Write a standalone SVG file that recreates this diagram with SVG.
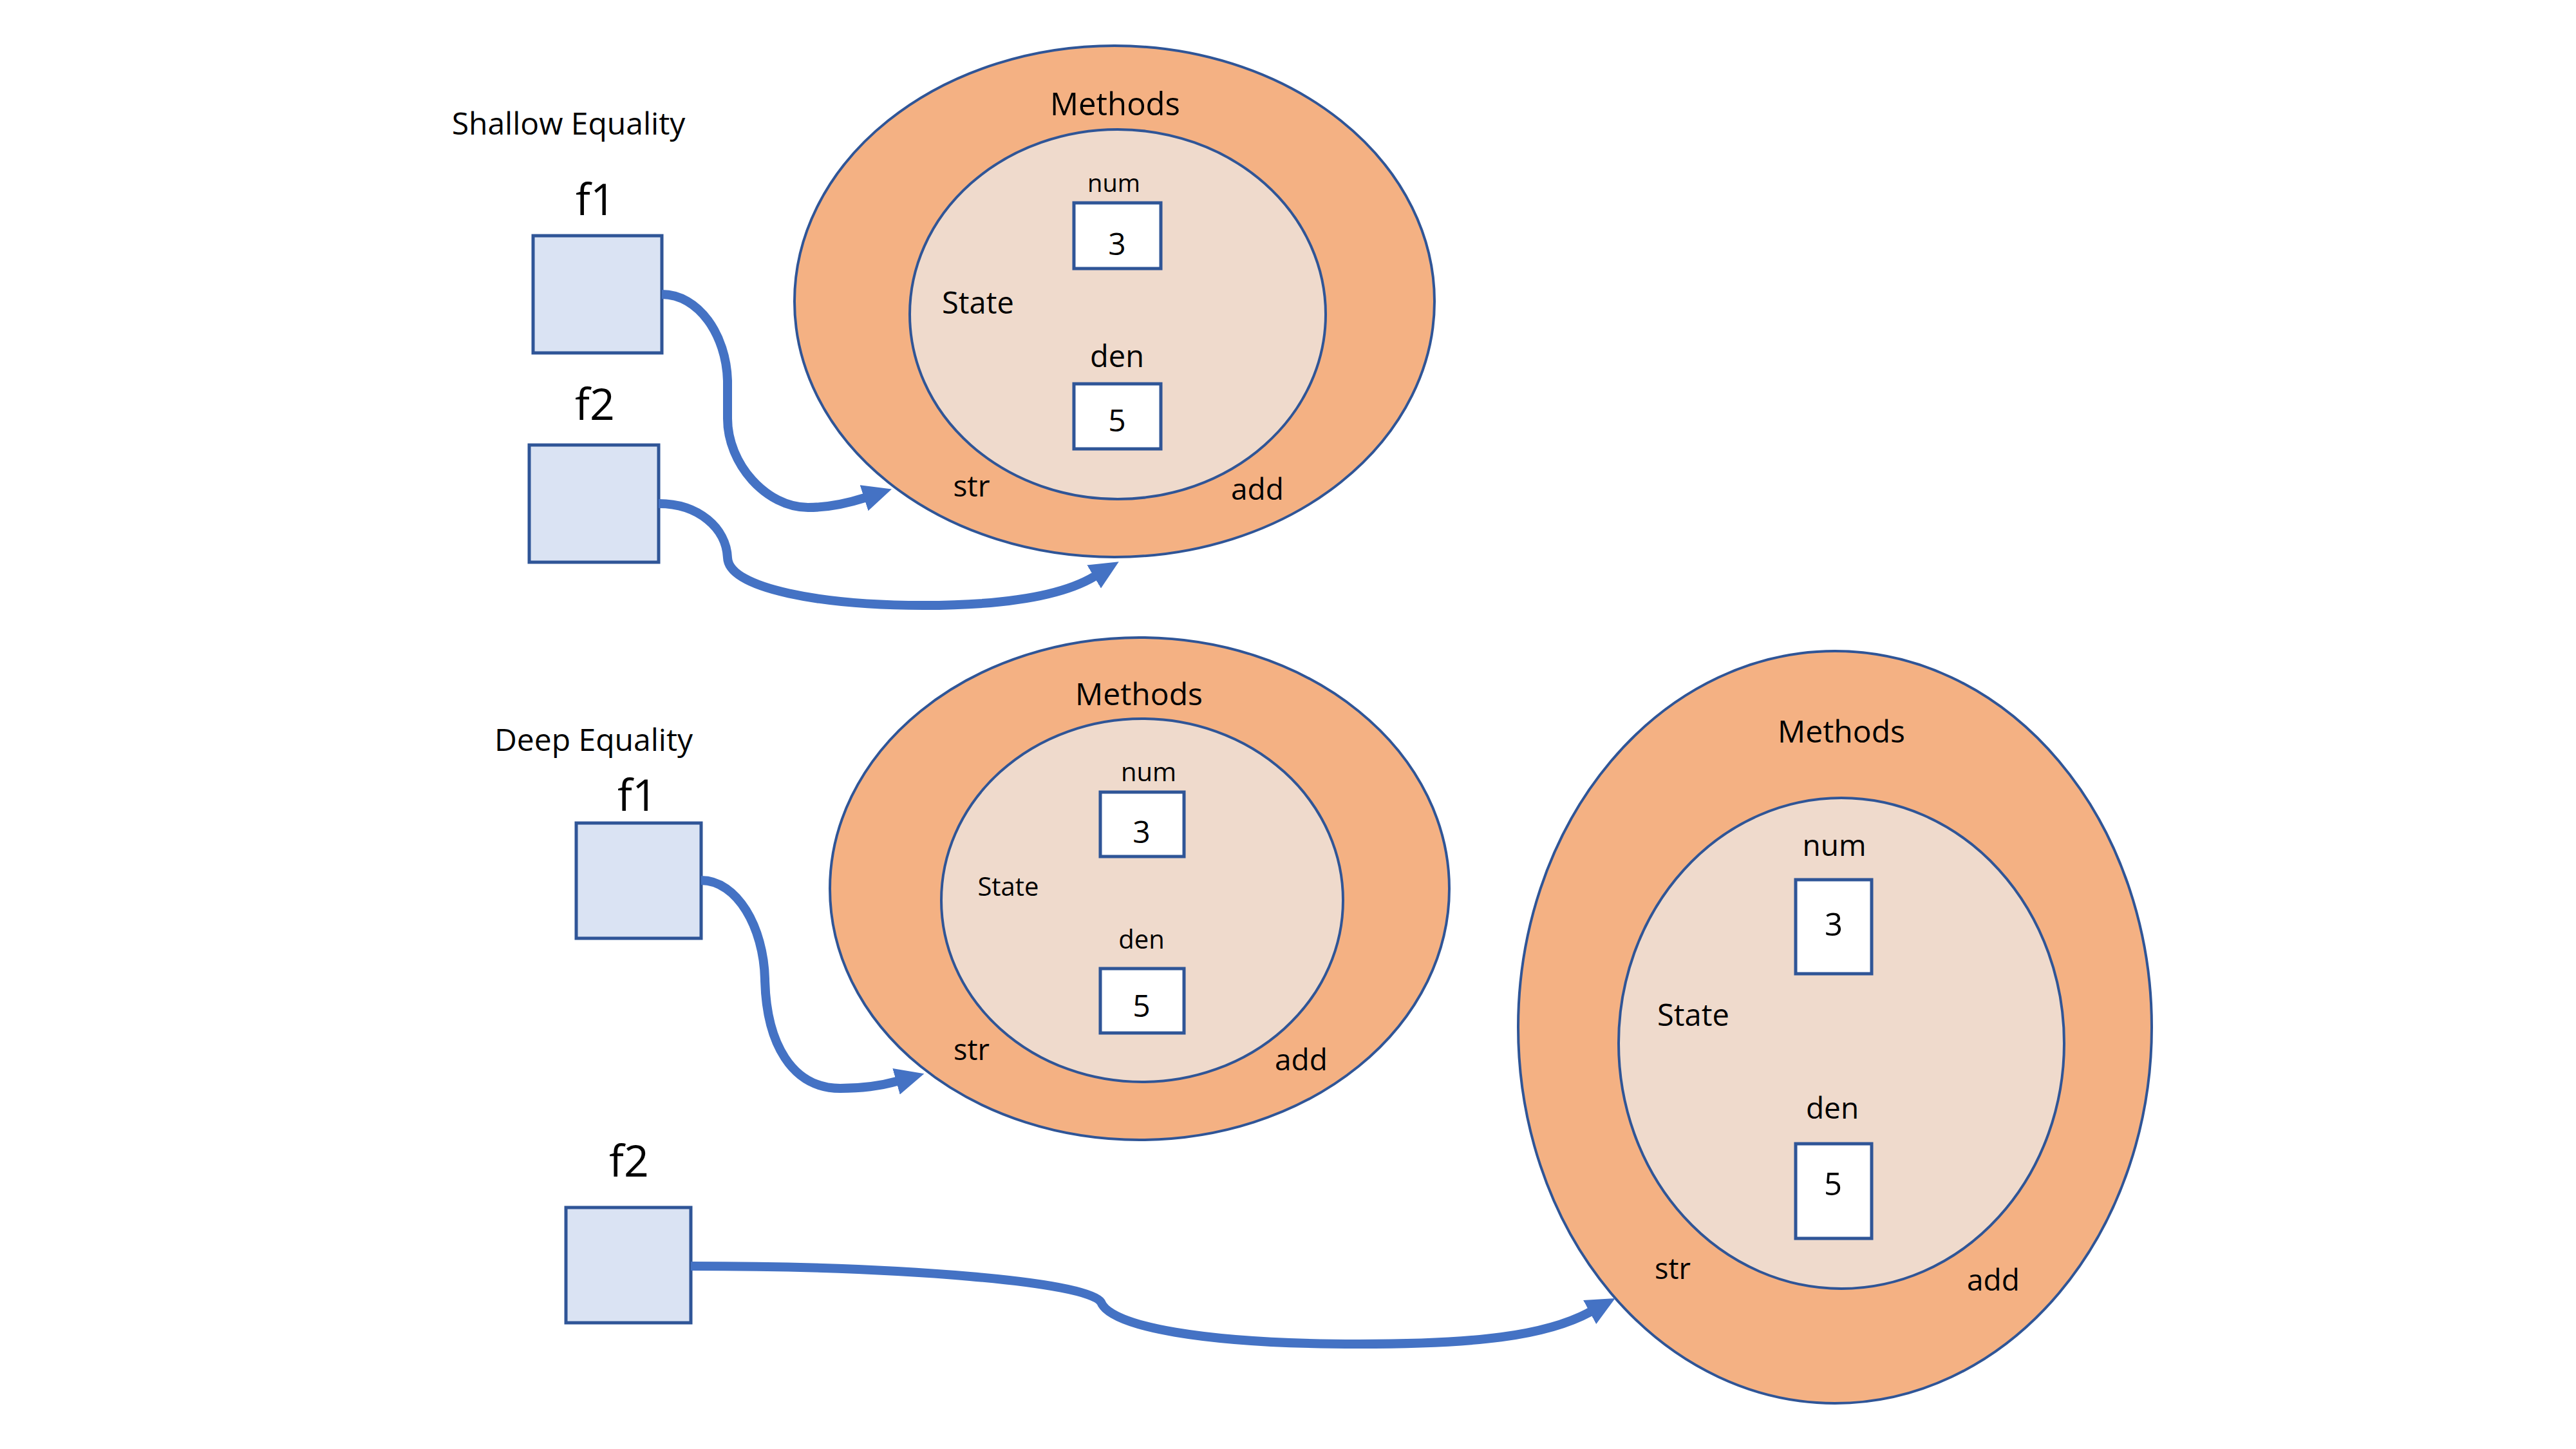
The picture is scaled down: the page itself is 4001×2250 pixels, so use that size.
<svg xmlns="http://www.w3.org/2000/svg" width="4001" height="2250" viewBox="0 0 4001 2250">
<style>
text{font-family:"Open Sans","Noto Sans","Liberation Sans",sans-serif;fill:#000;text-anchor:middle}
.outer{fill:#F4B183;stroke:#2F5597;stroke-width:4}
.inner{fill:#EFDACC;stroke:#2F5597;stroke-width:4}
.ref{fill:#DAE3F3;stroke:#2F5597;stroke-width:5}
.val{fill:#FFFFFF;stroke:#2F5597;stroke-width:5}
.conn{fill:none;stroke:#4472C4;stroke-width:14;marker-end:url(#ah)}
.title{font-size:48px}
.var{font-size:68px}
</style>
<defs>
<marker id="ah" markerUnits="userSpaceOnUse" markerWidth="46" markerHeight="44" refX="1" refY="21" orient="auto" viewBox="0 0 46 42">
<path d="M0,0 L45,21 L0,42 z" fill="#4472C4"/>
</marker>
</defs>
<rect width="4001" height="2250" fill="#FFFFFF"/>

<g id="shallow-label"><text class="title" x="883" y="209">Shallow Equality</text></g>
<g id="s-f1"><text class="var" x="925" y="334">f1</text><rect class="ref" x="828" y="366" width="200" height="182"/></g>
<g id="s-f2"><text class="var" x="924" y="652">f2</text><rect class="ref" x="822" y="691" width="201" height="182"/></g>
<g id="s-obj">
<ellipse class="outer" cx="1731" cy="468" rx="497" ry="397"/>
<ellipse class="inner" cx="1736" cy="488" rx="323" ry="287"/>
<text x="1732" y="179" font-size="49">Methods</text>
<text x="1730" y="298" font-size="38">num</text>
<rect class="val" x="1668" y="315" width="135" height="102"/>
<text x="1735" y="396" font-size="48">3</text>
<text x="1519" y="487" font-size="47">State</text>
<text x="1735" y="570" font-size="47">den</text>
<rect class="val" x="1668" y="596" width="135" height="101"/>
<text x="1735" y="670" font-size="48">5</text>
<text x="1509" y="771" font-size="46">str</text>
<text x="1953" y="776" font-size="46">add</text>
</g>

<g id="deep-label"><text class="title" x="922" y="1166">Deep Equality</text></g>
<g id="d-f1"><text class="var" x="990" y="1259">f1</text><rect class="ref" x="895" y="1278" width="194" height="179"/></g>
<g id="d-f2"><text class="var" x="977" y="1827">f2</text><rect class="ref" x="879" y="1875" width="194" height="179"/></g>
<g id="d-obj1">
<ellipse class="outer" cx="1770" cy="1380" rx="481" ry="390"/>
<ellipse class="inner" cx="1774" cy="1398" rx="312" ry="282"/>
<text x="1769" y="1095" font-size="48">Methods</text>
<text x="1784" y="1213" font-size="40">num</text>
<rect class="val" x="1709" y="1230" width="130" height="100"/>
<text x="1773" y="1309" font-size="48">3</text>
<text x="1566" y="1391" font-size="40">State</text>
<text x="1773" y="1473" font-size="40">den</text>
<rect class="val" x="1709" y="1504" width="130" height="100"/>
<text x="1773" y="1579" font-size="48">5</text>
<text x="1509" y="1646" font-size="45">str</text>
<text x="2021" y="1662" font-size="46">add</text>
</g>
<g id="d-obj2">
<ellipse class="outer" cx="2850" cy="1595" rx="492" ry="584"/>
<ellipse class="inner" cx="2860" cy="1620" rx="346" ry="381"/>
<text x="2860" y="1153" font-size="48">Methods</text>
<text x="2849" y="1329" font-size="46">num</text>
<rect class="val" x="2789" y="1366" width="118" height="146"/>
<text x="2848" y="1453" font-size="49">3</text>
<text x="2630" y="1593" font-size="47">State</text>
<text x="2846" y="1737" font-size="46">den</text>
<rect class="val" x="2789" y="1776" width="118" height="147"/>
<text x="2847" y="1856" font-size="49">5</text>
<text x="2598" y="1986" font-size="45">str</text>
<text x="3096" y="2004" font-size="46">add</text>
</g>

<g id="connectors">
<path class="conn" d="M1028,457 C1085,457 1128,520 1130,591 L1130,650 C1130,720 1190,788 1255,788 C1290,788 1318,781 1343,773"/>
<path class="conn" d="M1023,782 C1085,782 1128,820 1130,866 C1132,915 1280,940 1434,940 C1560,940 1650,925 1700,895"/>
<path class="conn" d="M1089,1367 C1145,1367 1186,1440 1188,1520 C1190,1620 1230,1690 1305,1690 C1340,1690 1368,1686 1393,1679"/>
<path class="conn" d="M1073,1966 C1400,1966 1690,1990 1710,2022 C1725,2060 1870,2087 2110,2087 C2290,2087 2400,2075 2470,2037"/>
</g>
</svg>
